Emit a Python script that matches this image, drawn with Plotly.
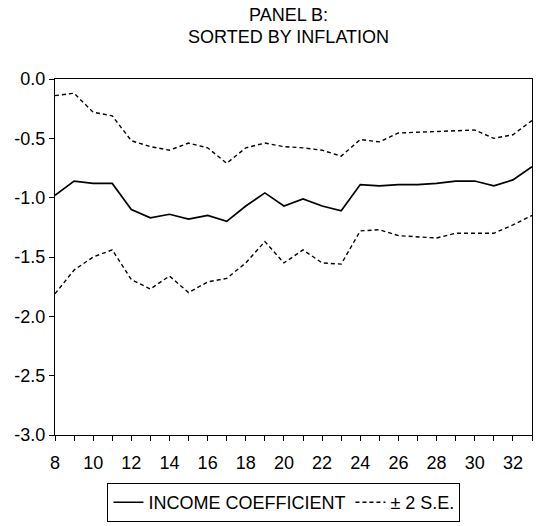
import plotly.graph_objects as go

x_vals = list(range(8, 34))
income_coef = [-0.98, -0.86, -0.88, -0.88, -1.10, -1.17, -1.14, -1.18, -1.15, -1.20,
               -1.07, -0.96, -1.07, -1.01, -1.07, -1.11, -0.89, -0.90, -0.89, -0.89,
               -0.88, -0.86, -0.86, -0.90, -0.85, -0.74]
upper_band = [-0.14, -0.12, -0.28, -0.31, -0.52, -0.57, -0.60, -0.54, -0.58, -0.71,
              -0.58, -0.54, -0.57, -0.58, -0.60, -0.65, -0.51, -0.53, -0.455, -0.45,
              -0.44, -0.44, -0.43, -0.50, -0.47, -0.35]
lower_band = [-1.81, -1.61, -1.50, -1.44, -1.69, -1.77, -1.66, -1.80, -1.71, -1.68,
              -1.55, -1.37, -1.55, -1.44, -1.55, -1.56, -1.28, -1.27, -1.32, -1.33,
              -1.34, -1.30, -1.30, -1.30, -1.23, -1.15]

y_ticks = [0.0, -0.5, -1.0, -1.5, -2.0, -2.5, -3.0]
y_tick_labels = ["0.0", "-0.5", "-1.0", "-1.5", "-2.0", "-2.5", "-3.0"]
x_ticks = list(range(8, 33, 2))
title_lines = ["PANEL B:", "SORTED BY INFLATION"]

font_family = "Liberation Sans, Arial, Helvetica, sans-serif"
fs = 18

fig = go.Figure()
fig.add_trace(go.Scatter(x=x_vals, y=income_coef, mode="lines", name="INCOME COEFFICIENT",
                         line=dict(color="black", width=1.7)))
fig.add_trace(go.Scatter(x=x_vals, y=upper_band, mode="lines", name="± 2 S.E.",
                         line=dict(color="black", width=1.4, dash="4px,3px")))
fig.add_trace(go.Scatter(x=x_vals, y=lower_band, mode="lines", name="± 2 S.E.",
                         showlegend=False,
                         line=dict(color="black", width=1.4, dash="4px,3px")))

for text, ypos in zip(title_lines, [1.18, 1.118]):
    fig.add_annotation(text=text, xref="paper", yref="paper", x=0.49, y=ypos,
                       xanchor="center", yanchor="middle", showarrow=False,
                       font=dict(family=font_family, size=18, color="black"))

fig.update_layout(
    width=536, height=526,
    margin=dict(l=55, r=4, t=79, b=84),
    paper_bgcolor="white", plot_bgcolor="white",
    font=dict(family=font_family, size=fs, color="black"),
    showlegend=True,
    legend=dict(orientation="h", x=0.48, xanchor="center", y=-0.135, yanchor="top",
                bordercolor="black", borderwidth=1, bgcolor="white",
                font=dict(family=font_family, size=18, color="black"),
                itemwidth=30, tracegroupgap=0),
)
fig.update_xaxes(range=[8, 33], tickmode="array", tickvals=x_ticks,
                 ticktext=[str(v) for v in x_ticks],
                 ticks="outside", ticklen=5, tickwidth=1, tickcolor="black",
                 ticklabelstandoff=6,
                 minor=dict(dtick=1, tick0=8, ticks="outside", ticklen=5, tickwidth=1, tickcolor="black"),
                 showline=True, linecolor="black", linewidth=1, mirror=True,
                 showgrid=False, zeroline=False,
                 tickfont=dict(family=font_family, size=fs, color="black"))
fig.update_yaxes(range=[-3.0, 0.0], tickmode="array", tickvals=y_ticks, ticktext=y_tick_labels,
                 ticks="outside", ticklen=5, tickwidth=1, tickcolor="black",
                 showline=True, linecolor="black", linewidth=1, mirror=True,
                 showgrid=False, zeroline=False,
                 tickfont=dict(family=font_family, size=fs, color="black"))

fig.write_html("out.html")
